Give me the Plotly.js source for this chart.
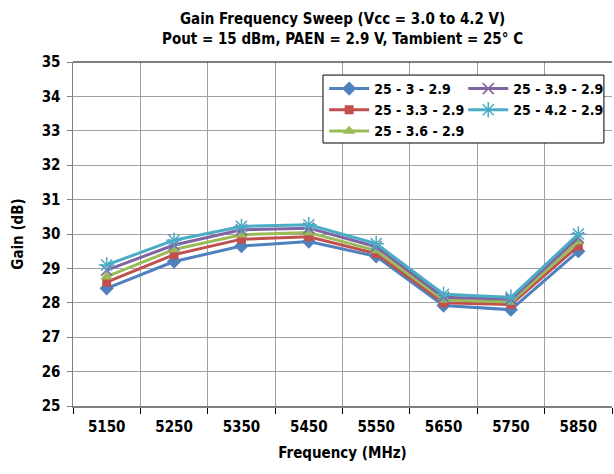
<!DOCTYPE html>
<html>
<head>
<meta charset="utf-8">
<script src="https://cdn.plot.ly/plotly-3.0.1.min.js"></script>
<style>html,body{margin:0;padding:0;background:#fff;}#chart{width:614px;height:474px;}</style>
</head>
<body>
<div id="chart"></div>
<script>
var categories = ["5150", "5250", "5350", "5450", "5550", "5650", "5750", "5850"];
var seriesNames = ["25 - 3 - 2.9", "25 - 3.3 - 2.9", "25 - 3.6 - 2.9", "25 - 3.9 - 2.9", "25 - 4.2 - 2.9"];
var gain_3_0 = [28.42, 29.20, 29.65, 29.78, 29.35, 27.92, 27.80, 29.50];
var gain_3_3 = [28.60, 29.40, 29.85, 29.92, 29.43, 28.00, 27.95, 29.65];
var gain_3_6 = [28.76, 29.55, 29.98, 30.04, 29.52, 28.08, 28.02, 29.78];
var gain_3_9 = [28.95, 29.68, 30.12, 30.17, 29.63, 28.16, 28.10, 29.90];
var gain_4_2 = [29.10, 29.82, 30.22, 30.27, 29.72, 28.25, 28.16, 30.00];
var yTicks = [25, 26, 27, 28, 29, 30, 31, 32, 33, 34, 35];

var colors = ["#4F81BD", "#C0504D", "#9BBB59", "#8064A2", "#4BACC6"];
var symbols = ["diamond", "square", "triangle-up", "x-thin-open", "asterisk-open"];
var sizes = [11, 9, 11, 11, 13];
var legendIds = ["legend", "legend", "legend", "legend2", "legend2"];
var allSeries = [gain_3_0, gain_3_3, gain_3_6, gain_3_9, gain_4_2];

var FONT = "'DejaVu Sans Condensed', 'Liberation Sans Narrow', 'Arial Narrow', sans-serif";

var traces = allSeries.map(function (vals, i) {
  return {
    x: categories,
    y: vals,
    name: seriesNames[i],
    type: "scatter",
    mode: "lines+markers",
    legend: legendIds[i],
    line: {color: colors[i], width: 3},
    marker: {symbol: symbols[i], size: sizes[i], color: colors[i],
             line: {color: colors[i], width: (i >= 3 ? 1.5 : 0)}}
  };
});

var legendCommon = {
  orientation: "v",
  yanchor: "top",
  bgcolor: "rgba(0,0,0,0)",
  borderwidth: 0,
  font: {family: FONT, size: 14, color: "#000", weight: "bold"},
  traceorder: "normal",
  itemwidth: 40,
  tracegroupgap: 0
};

var layout = {
  width: 614, height: 474,
  margin: {l: 73, r: 2, t: 62, b: 68},
  paper_bgcolor: "#ffffff",
  plot_bgcolor: "#ffffff",
  font: {family: FONT, size: 15, color: "#000", weight: "bold"},
  xaxis: {
    type: "category",
    range: [-0.5, 7.5],
    tickson: "boundaries",
    ticks: "outside", ticklen: 6, tickcolor: "#000", tickwidth: 1,
    ticklabelstandoff: 6,
    showgrid: true, gridcolor: "#a0a0a0", gridwidth: 1,
    showline: true, linecolor: "#808080", linewidth: 1.5,
    tickfont: {family: FONT, size: 15, color: "#000", weight: "bold"},
    title: {text: "<b>Frequency (MHz)</b>", font: {family: FONT, size: 15, color: "#000"}, standoff: 13},
    fixedrange: true
  },
  yaxis: {
    range: [25, 35],
    tickvals: yTicks,
    ticktext: yTicks.map(String),
    ticks: "outside", ticklen: 5, tickcolor: "#808080", tickwidth: 1,
    ticklabelstandoff: 3,
    showgrid: true, gridcolor: "#a0a0a0", gridwidth: 1,
    zeroline: false,
    showline: true, linecolor: "#808080", linewidth: 1.5,
    tickfont: {family: FONT, size: 15, color: "#000", weight: "bold"},
    title: {text: "<b>Gain (dB)</b>", font: {family: FONT, size: 15, color: "#000"}, standoff: 14},
    fixedrange: true
  },
  shapes: [
    {type: "line", xref: "paper", yref: "paper", x0: 0, x1: 1, y0: 1, y1: 1,
     line: {color: "#000", width: 1}},
    {type: "rect", xref: "paper", yref: "paper", layer: "above",
     x0: 0.4638, x1: 0.985, y0: 0.7645, y1: 0.962,
     fillcolor: "#ffffff", line: {color: "#000", width: 1}}
  ],
  annotations: [{
    text: "<b>Gain Frequency Sweep (Vcc = 3.0 to 4.2 V)<br>Pout = 15 dBm, PAEN = 2.9 V, Tambient = 25° C</b>",
    xref: "paper", yref: "paper", x: 0.5, y: 1, xanchor: "center", yanchor: "bottom",
    yshift: 12, showarrow: false, align: "center",
    font: {family: FONT, size: 15, color: "#000"}
  }],
  showlegend: true,
  legend: Object.assign({}, legendCommon, {x: 0.466, xanchor: "left", y: 0.968}),
  legend2: Object.assign({}, legendCommon, {x: 0.724, xanchor: "left", y: 0.968})
};

Plotly.newPlot("chart", traces, layout, {staticPlot: true, displayModeBar: false});
</script>
</body>
</html>
